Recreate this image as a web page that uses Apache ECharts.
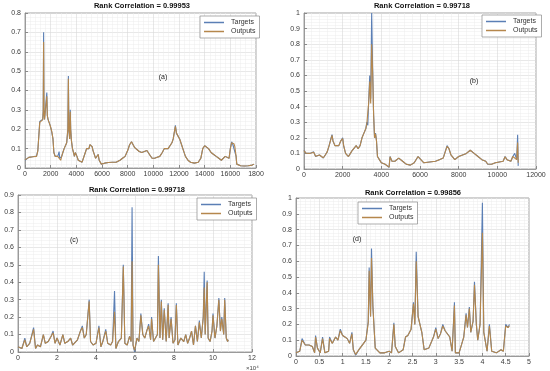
<!DOCTYPE html>
<html><head><meta charset="utf-8">
<script src="https://cdn.jsdelivr.net/npm/echarts@6/dist/echarts.min.js"></script>
<style>html,body{margin:0;padding:0;background:#fff}#c{width:550px;height:371px}</style>
</head><body><div id="c"></div>
<script>
// ---------- Panel (a) ----------
const aX = [0,150,300,450,600,750,900,1000,1100,1150,
  1200,1300,1380,1420,1450,1480,1520,1580,1650,1700,
  1740,1800,1880,1960,2040,2100,2180,2250,2350,2450,
  2550,2620,2660,2700,2780,2860,2950,3050,3150,3250,
  3300,3340,3380,3420,3480,3530,3560,3620,3700,3780,
  3850,3920,3980,4050,4150,4300,4450,4600,4700,4800,
  4900,4980,5060,5150,5230,5300,5400,5500,5600,5700,
  5780,5850,5950,6200,6500,6800,7100,7400,7600,7800,
  8000,8150,8300,8400,8550,8700,8900,9100,9300,9500,
  9700,9900,10100,10300,10500,10700,10850,11000,11150,11300,
  11450,11550,11650,11720,11800,11880,11950,12050,12200,12350,
  12500,12700,12900,13200,13500,13700,13850,14000,14150,14300,
  14500,14700,14900,15100,15300,15450,15600,15750,15900,16000,
  16100,16200,16280,16350,16450,16500,16600,16800,17100,17400,
  17700,17850];
const aTargets = [0.040,0.050,0.055,0.050,0.058,0.052,0.062,0.090,0.080,0.240,
  0.235,0.240,0.250,0.300,0.700,0.300,0.250,0.260,0.250,0.390,
  0.270,0.250,0.240,0.220,0.200,0.190,0.150,0.080,0.060,0.055,
  0.060,0.055,0.085,0.050,0.040,0.060,0.080,0.100,0.110,0.130,
  0.140,0.200,0.475,0.200,0.150,0.300,0.200,0.140,0.100,0.080,
  0.060,0.080,0.070,0.060,0.040,0.030,0.030,0.040,0.080,0.100,
  0.110,0.100,0.120,0.130,0.110,0.090,0.070,0.050,0.060,0.070,
  0.040,0.030,0.020,0.025,0.028,0.030,0.030,0.040,0.050,0.060,
  0.090,0.120,0.135,0.125,0.105,0.100,0.085,0.080,0.085,0.090,
  0.070,0.050,0.050,0.055,0.060,0.080,0.100,0.090,0.100,0.110,
  0.130,0.150,0.190,0.220,0.180,0.190,0.170,0.150,0.120,0.090,
  0.060,0.040,0.030,0.025,0.030,0.050,0.100,0.115,0.110,0.100,
  0.080,0.070,0.060,0.050,0.040,0.050,0.060,0.065,0.050,0.100,
  0.135,0.120,0.130,0.110,0.060,0.020,0.015,0.012,0.010,0.012,
  0.015,0.020];
const aOutputs = [0.042,0.050,0.055,0.052,0.058,0.052,0.060,0.088,0.082,0.235,
  0.235,0.240,0.250,0.290,0.650,0.290,0.250,0.255,0.250,0.370,
  0.270,0.250,0.240,0.220,0.200,0.185,0.150,0.080,0.060,0.055,
  0.060,0.055,0.070,0.050,0.040,0.060,0.080,0.100,0.110,0.130,
  0.140,0.200,0.460,0.200,0.150,0.290,0.200,0.140,0.100,0.080,
  0.060,0.080,0.070,0.060,0.040,0.030,0.030,0.040,0.080,0.100,
  0.110,0.100,0.120,0.130,0.110,0.090,0.070,0.050,0.060,0.070,
  0.040,0.030,0.020,0.025,0.028,0.030,0.030,0.040,0.050,0.060,
  0.090,0.120,0.135,0.125,0.105,0.100,0.085,0.080,0.085,0.090,
  0.070,0.050,0.050,0.055,0.060,0.080,0.100,0.090,0.100,0.110,
  0.130,0.150,0.190,0.215,0.180,0.190,0.170,0.150,0.120,0.090,
  0.060,0.040,0.030,0.025,0.030,0.050,0.100,0.115,0.110,0.100,
  0.080,0.070,0.060,0.050,0.040,0.050,0.060,0.065,0.050,0.100,
  0.130,0.120,0.125,0.110,0.060,0.020,0.015,0.012,0.010,0.012,
  0.015,0.020];
const aXTickLabels = ['0','2000','4000','6000','8000','10000','12000','14000','16000','1800'];

// ---------- Panel (b) ----------
const bX = [0,100,200,300,400,500,600,700,800,900,
  1000,1100,1200,1300,1400,1450,1500,1600,1700,1800,
  1900,2000,2050,2150,2300,2400,2500,2600,2700,2800,
  2900,3000,3100,3200,3250,3300,3350,3400,3450,3500,
  3550,3600,3650,3700,3750,3800,3900,4000,4200,4400,
  4450,4550,4700,4900,5000,5100,5300,5500,5700,5900,
  6000,6200,6500,6800,7000,7200,7300,7400,7500,7600,
  7800,8000,8200,8400,8600,8700,8800,8900,9000,9200,
  9400,9500,9700,9900,10100,10300,10400,10500,10700,10800,
  10900,11000,11050,11080];
const bTargets = [0.120,0.100,0.110,0.100,0.105,0.110,0.080,0.085,0.090,0.095,
  0.070,0.090,0.110,0.150,0.200,0.220,0.180,0.150,0.160,0.150,
  0.180,0.200,0.150,0.100,0.080,0.100,0.120,0.110,0.150,0.130,
  0.150,0.200,0.230,0.260,0.300,0.280,0.450,0.600,0.450,1.000,
  0.650,0.350,0.200,0.230,0.180,0.080,0.060,0.040,0.030,0.010,
  0.080,0.050,0.050,0.070,0.075,0.050,0.030,0.025,0.040,0.080,
  0.070,0.040,0.045,0.050,0.060,0.070,0.080,0.150,0.130,0.090,
  0.060,0.080,0.090,0.100,0.120,0.130,0.100,0.110,0.080,0.060,
  0.050,0.030,0.030,0.040,0.045,0.050,0.080,0.060,0.050,0.080,
  0.100,0.060,0.220,0.020];
const bOutputs = [0.118,0.102,0.110,0.100,0.105,0.108,0.082,0.085,0.090,0.095,
  0.072,0.090,0.110,0.150,0.195,0.215,0.180,0.150,0.160,0.150,
  0.180,0.195,0.150,0.100,0.080,0.100,0.120,0.110,0.150,0.130,
  0.150,0.200,0.230,0.260,0.290,0.280,0.430,0.560,0.420,0.800,
  0.620,0.350,0.200,0.225,0.180,0.080,0.060,0.040,0.030,0.012,
  0.078,0.050,0.050,0.070,0.075,0.050,0.030,0.025,0.040,0.080,
  0.070,0.040,0.045,0.050,0.060,0.070,0.080,0.145,0.130,0.090,
  0.060,0.080,0.090,0.100,0.120,0.128,0.100,0.110,0.080,0.060,
  0.050,0.032,0.030,0.040,0.045,0.050,0.078,0.060,0.050,0.080,
  0.090,0.060,0.170,0.040];

// ---------- Panel (c) ----------
const cX = [0,0.2,0.35,0.45,0.6,0.8,0.9,1.0,1.15,1.3,
  1.4,1.55,1.7,1.8,1.9,2.0,2.15,2.3,2.4,2.55,
  2.7,2.8,2.9,3.05,3.2,3.3,3.4,3.5,3.58,3.65,
  3.72,3.85,4.0,4.15,4.25,4.35,4.5,4.6,4.75,4.85,
  4.95,5.02,5.15,5.3,5.4,5.48,5.6,5.72,5.8,5.85,
  5.9,5.98,6.1,6.2,6.3,6.4,6.5,6.6,6.7,6.8,
  6.85,6.95,7.05,7.15,7.2,7.28,7.35,7.42,7.5,7.6,
  7.7,7.75,7.85,7.95,8.05,8.12,8.2,8.35,8.5,8.6,
  8.7,8.8,8.9,9.0,9.1,9.2,9.3,9.4,9.5,9.55,
  9.6,9.7,9.75,9.85,9.95,10.0,10.1,10.2,10.3,10.38,
  10.45,10.55,10.6,10.68,10.75,10.78];
const cTargets = [0.03,0.02,0.08,0.03,0.05,0.14,0.02,0.04,0.03,0.10,
  0.05,0.06,0.09,0.12,0.05,0.08,0.04,0.10,0.05,0.06,
  0.08,0.04,0.04,0.07,0.12,0.15,0.08,0.10,0.09,0.30,
  0.06,0.04,0.05,0.15,0.03,0.06,0.13,0.05,0.04,0.06,
  0.35,0.02,0.06,0.08,0.50,0.05,0.04,0.09,0.06,0.83,
  0.04,0.00,0.08,0.06,0.22,0.10,0.08,0.12,0.16,0.07,
  0.20,0.06,0.08,0.10,0.55,0.08,0.30,0.07,0.25,0.06,
  0.28,0.08,0.20,0.05,0.07,0.28,0.04,0.08,0.06,0.10,
  0.05,0.08,0.12,0.04,0.15,0.06,0.18,0.08,0.20,0.46,
  0.10,0.41,0.08,0.06,0.12,0.22,0.08,0.15,0.31,0.12,
  0.20,0.10,0.31,0.08,0.06,0.07];
const cOutputs = [0.03,0.02,0.07,0.03,0.05,0.13,0.02,0.04,0.03,0.10,
  0.05,0.06,0.09,0.11,0.05,0.08,0.04,0.10,0.05,0.06,
  0.08,0.04,0.04,0.07,0.12,0.14,0.08,0.10,0.09,0.29,
  0.06,0.04,0.05,0.14,0.03,0.06,0.12,0.05,0.04,0.06,
  0.23,0.02,0.06,0.08,0.49,0.05,0.04,0.09,0.06,0.52,
  0.04,0.01,0.08,0.06,0.21,0.10,0.08,0.12,0.15,0.07,
  0.19,0.06,0.08,0.10,0.50,0.08,0.29,0.07,0.24,0.06,
  0.27,0.08,0.19,0.05,0.07,0.27,0.04,0.08,0.06,0.10,
  0.05,0.08,0.12,0.04,0.15,0.06,0.17,0.08,0.20,0.37,
  0.10,0.40,0.08,0.06,0.12,0.21,0.08,0.15,0.30,0.12,
  0.19,0.10,0.30,0.08,0.06,0.07];

// ---------- Panel (d) ----------
const dX = [0,0.08,0.13,0.2,0.28,0.35,0.4,0.42,0.46,0.52,
  0.55,0.57,0.62,0.7,0.72,0.78,0.85,0.9,0.95,1.0,
  1.05,1.1,1.15,1.2,1.23,1.28,1.35,1.45,1.5,1.55,
  1.57,1.6,1.62,1.65,1.7,1.8,1.9,2.0,2.05,2.1,
  2.13,2.2,2.3,2.35,2.4,2.47,2.52,2.55,2.58,2.62,
  2.7,2.75,2.85,2.95,3.0,3.05,3.1,3.15,3.2,3.3,
  3.35,3.4,3.42,3.5,3.6,3.65,3.68,3.72,3.75,3.8,
  3.83,3.87,3.9,3.95,4.0,4.03,4.1,4.15,4.2,4.3,
  4.4,4.45,4.5,4.55,4.58];
const dTargets = [0.02,0.03,0.11,0.07,0.07,0.06,0.02,0.13,0.05,0.02,
  0.01,0.12,0.02,0.03,0.12,0.08,0.12,0.10,0.17,0.13,
  0.12,0.11,0.08,0.15,0.04,0.005,0.04,0.08,0.10,0.22,
  0.56,0.25,0.68,0.32,0.05,0.02,0.02,0.03,0.02,0.21,
  0.06,0.02,0.04,0.12,0.13,0.17,0.34,0.20,0.66,0.25,
  0.15,0.04,0.05,0.12,0.18,0.11,0.14,0.20,0.16,0.12,
  0.03,0.34,0.02,0.02,0.12,0.27,0.18,0.31,0.15,0.22,
  0.47,0.20,0.10,0.20,0.97,0.15,0.03,0.20,0.03,0.02,
  0.04,0.03,0.20,0.18,0.20];
const dOutputs = [0.02,0.03,0.10,0.07,0.07,0.06,0.02,0.12,0.05,0.02,
  0.01,0.11,0.02,0.03,0.11,0.08,0.12,0.10,0.16,0.13,
  0.12,0.11,0.08,0.14,0.04,0.01,0.04,0.08,0.10,0.21,
  0.54,0.25,0.62,0.31,0.05,0.02,0.02,0.03,0.02,0.20,
  0.06,0.02,0.04,0.12,0.13,0.17,0.33,0.20,0.60,0.25,
  0.15,0.04,0.05,0.12,0.17,0.11,0.14,0.19,0.16,0.12,
  0.03,0.32,0.02,0.02,0.12,0.26,0.18,0.30,0.15,0.22,
  0.45,0.20,0.10,0.20,0.78,0.15,0.03,0.19,0.03,0.02,
  0.04,0.03,0.19,0.18,0.19];

const titles = ['Rank Correlation = 0.99953','Rank Correlation = 0.99718','Rank Correlation = 0.99718','Rank Correlation = 0.99856'];
const panelTags = ['(a)','(b)','(c)','(d)'];
const seriesNames = ['Targets','Outputs'];

// ---------- layout ----------
const FONT = 'Liberation Sans, Arial, sans-serif';
const TCOL = '#5b7fb5', OCOL = '#b5874c';
const grids = [
  {left:25, top:13, width:231, height:155},
  {left:304, top:13, width:232, height:156},
  {left:18, top:195, width:234, height:157},
  {left:296, top:198, width:233, height:158}
];
const plain = (v)=>String(v);
const xCfg = [
  {max:18000, interval:2000, fmt:(v)=>aXTickLabels[Math.round(v/2000)]},
  {max:12000, interval:2000, fmt:plain},
  {max:12, interval:2, fmt:plain},
  {max:5, interval:0.5, fmt:plain}
];
const yCfg = [{max:0.8},{max:1},{max:0.9},{max:1}];
const panels = [[aX,aTargets,aOutputs],[bX,bTargets,bOutputs],[cX,cTargets,cOutputs],[dX,dTargets,dOutputs]];

const zip = (xs, ys) => xs.map((x,i)=>[x, ys[i]]);
const gridLine = {show:true, lineStyle:{color:'#d8d8d8', width:0.6}};
const minorLine = {show:true, lineStyle:{color:'#ececec', width:0.5}};

const option = {
  animation:false,
  backgroundColor:'#ffffff',
  grid: grids.map(g=>Object.assign({show:true, borderColor:'#8a8a8a', borderWidth:0.8, backgroundColor:'#fff'}, g)),
  xAxis: xCfg.map((c,i)=>({
    type:'value', gridIndex:i, min:0, max:c.max, interval:c.interval,
    axisLine:{show:true, onZero:false, lineStyle:{color:'#8a8a8a', width:0.8}},
    axisTick:{show:true, inside:true, length:3, lineStyle:{color:'#8a8a8a'}},
    axisLabel:{color:'#3a3a3a', fontSize:7, fontFamily:FONT, margin:3, showMaxLabel:true, showMinLabel:true, formatter: c.fmt},
    splitLine:gridLine, minorTick:{show:false, splitNumber:5}, minorSplitLine:minorLine
  })),
  yAxis: yCfg.map((c,i)=>({
    type:'value', gridIndex:i, min:0, max:c.max, interval:0.1,
    axisLine:{show:true, onZero:false, lineStyle:{color:'#8a8a8a', width:0.8}},
    axisTick:{show:true, inside:true, length:3, lineStyle:{color:'#8a8a8a'}},
    axisLabel:{color:'#3a3a3a', fontSize:7, fontFamily:FONT, margin:4},
    splitLine:gridLine, minorTick:{show:false, splitNumber:5}, minorSplitLine:minorLine
  })),
  legend: [
    {left:200, top:16},
    {left:482, top:15},
    {left:197, top:198},
    {left:358, top:202}
  ].map(p=>Object.assign({
    data:seriesNames, orient:'vertical', icon:'rect', itemWidth:20, itemHeight:1.5, itemGap:2,
    padding:[3,4,3,4], borderColor:'#8a8a8a', borderWidth:0.7, backgroundColor:'#fff',
    textStyle:{fontSize:7, color:'#333', fontFamily:FONT, padding:[0,0,0,2]}, selectedMode:false
  }, p)),
  series: [],
  graphic: []
};
panels.forEach((p,i)=>{
  option.series.push({name:seriesNames[0], type:'line', xAxisIndex:i, yAxisIndex:i, data:zip(p[0],p[1]),
    showSymbol:false, symbol:'none', lineStyle:{width:1.1, color:TCOL}, itemStyle:{color:TCOL}, z:2});
  option.series.push({name:seriesNames[1], type:'line', xAxisIndex:i, yAxisIndex:i, data:zip(p[0],p[2]),
    showSymbol:false, symbol:'none', lineStyle:{width:1.1, color:OCOL}, itemStyle:{color:OCOL}, z:3});
});
const titlePos = [[142,6],[422,6],[137,190],[413,193]];
titlePos.forEach((p,i)=>{
  option.graphic.push({type:'text', x:p[0], y:p[1], z:100, style:{text:titles[i], align:'center', verticalAlign:'middle', fontSize:7.5, fontWeight:'bold', fontFamily:FONT, fill:'#111'}});
});
const tagPos = [[163,77],[474,81],[74,240],[357,239]];
tagPos.forEach((p,i)=>{
  option.graphic.push({type:'text', x:p[0], y:p[1], z:100, style:{text:panelTags[i], align:'center', verticalAlign:'middle', fontSize:7, fontFamily:FONT, fill:'#222'}});
});
option.graphic.push({type:'text', x:246, y:368, z:100, style:{text:'×10⁴', align:'left', verticalAlign:'middle', fontSize:6, fontFamily:FONT, fill:'#444'}});

const chart = echarts.init(document.getElementById('c'), null, {renderer:'canvas'});
chart.setOption(option);
</script></body></html>
